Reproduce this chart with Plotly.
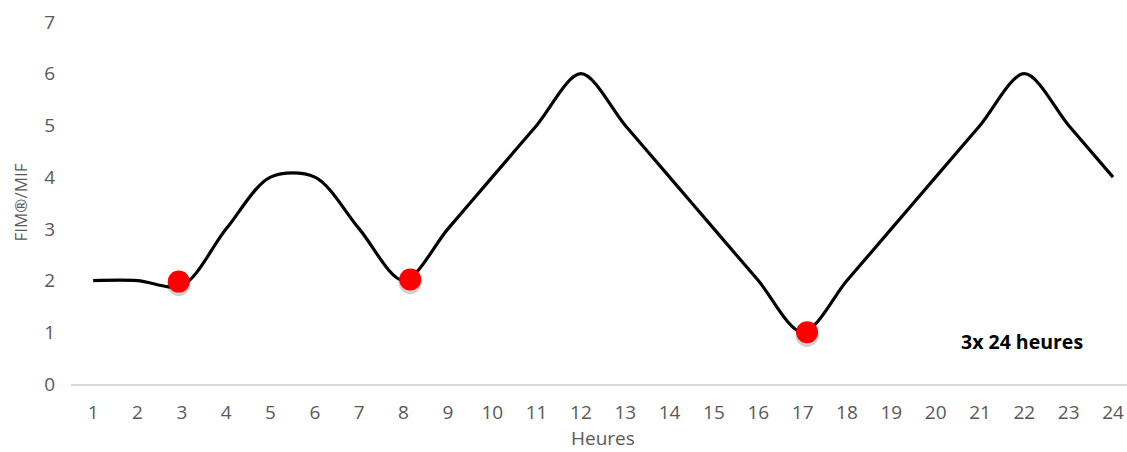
import plotly.graph_objects as go

hours = list(range(1, 25))
fim = [2, 2, 1.9, 3, 4, 4, 3, 2, 3, 4, 5, 6, 5, 4, 3, 2, 1, 2, 3, 4, 5, 6, 5, 4]
marker_x = [2.93, 8.15, 17.1]
marker_y = [1.98, 2.02, 1.0]
y_ticks = list(range(0, 8))
x_title = "Heures"
y_title = "FIM®/MIF"
note = "3x 24 heures"

font = "Open Sans, Noto Sans, sans-serif"
fig = go.Figure()
fig.add_trace(go.Scatter(
    x=hours, y=fim, mode="lines",
    line=dict(color="black", width=3.2, shape="spline", smoothing=0.9),
    hoverinfo="skip", showlegend=False))
fig.add_trace(go.Scatter(
    x=marker_x, y=[v - 0.06 for v in marker_y], mode="markers",
    marker=dict(color="rgba(0,0,0,0.18)", size=23, line=dict(width=0)),
    hoverinfo="skip", showlegend=False))
fig.add_trace(go.Scatter(
    x=marker_x, y=marker_y, mode="markers",
    marker=dict(color="#ff0000", size=22, line=dict(width=0)),
    showlegend=False))

fig.add_annotation(x=21.95, y=0.83, text="<b>" + note + "</b>", showarrow=False,
                   font=dict(family=font, size=19.5, color="black"))
fig.add_annotation(x=12.5, y=0, yshift=-54, text=x_title, showarrow=False,
                   font=dict(family=font, size=19, color="#595959"))
fig.add_annotation(xref="paper", x=0, xshift=-65, y=3.5, text=y_title, textangle=-90,
                   showarrow=False, font=dict(family=font, size=17, color="#595959"))

fig.update_layout(
    width=1127, height=452,
    margin=dict(l=71, r=0, t=22, b=68),
    plot_bgcolor="white", paper_bgcolor="white",
    font=dict(family=font, size=16, color="#595959"),
    xaxis=dict(range=[0.5, 24.315], tickvals=hours, showgrid=False, zeroline=False,
               showline=True, linecolor="#d9d9d9", linewidth=2, automargin=False,
               ticks="", ticklabelstandoff=10, ticklabeloverflow="allow",
               tickfont=dict(size=19, color="#595959")),
    yaxis=dict(range=[0, 7], tickvals=y_ticks, showgrid=False, zeroline=False,
               showline=False, ticks="", ticklabelstandoff=15, automargin=False,
               tickfont=dict(size=19, color="#595959")),
)
fig.write_html("out.html", config={"displayModeBar": False},
               post_script="document.body.style.margin='0';document.body.style.overflow='hidden';")
